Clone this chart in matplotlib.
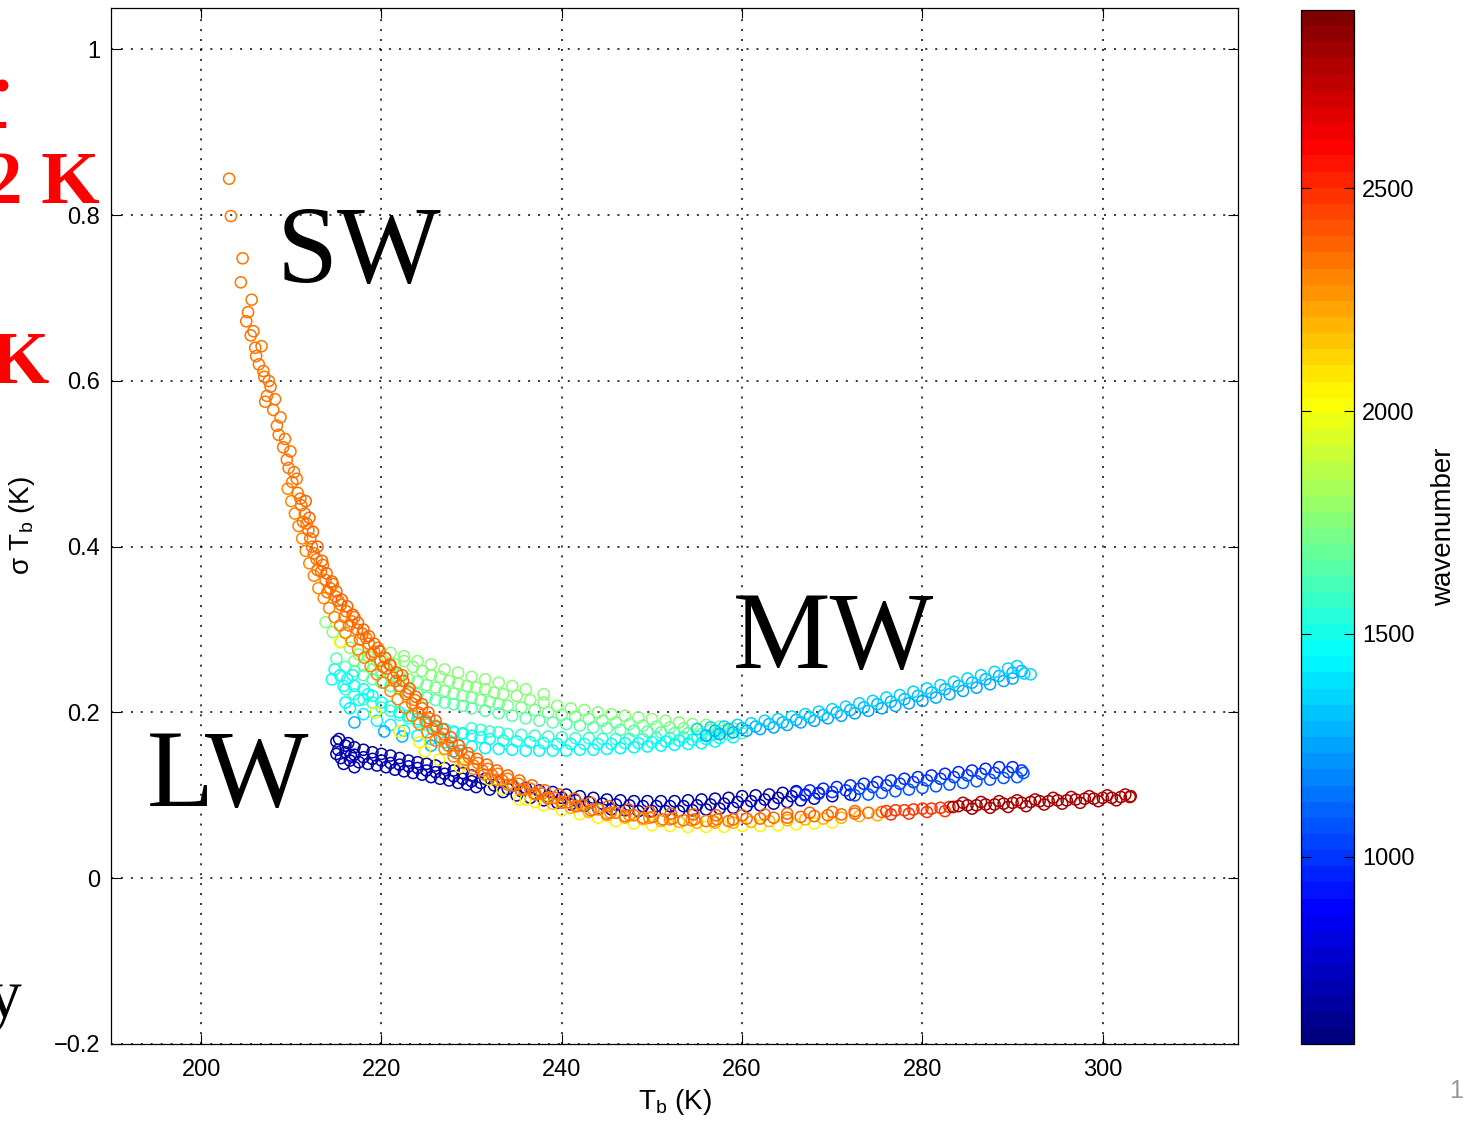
import numpy as np
import matplotlib.pyplot as plt
from matplotlib.colors import Normalize, ListedColormap
from matplotlib.cm import ScalarMappable

plt.rcParams['font.family'] = ['Liberation Sans', 'DejaVu Sans']
plt.rcParams['mathtext.default'] = 'regular'

# points, (Tb [K], sigma Tb [K]), grouped by channel colour
# SW band
sw_core = [(203.1, .844), (203.3, .799), (204.4, .719), (204.6, .748), (205.2, .683), (205.6, .698),
           (205.8, .660), (206.0, .640), (206.4, .620), (206.7, .642), (207.0, .605), (207.3, .582),
           (207.7, .593), (208.0, .565), (208.4, .546), (208.8, .556), (209.1, .520), (209.5, .505),
           (209.9, .515), (210.3, .490), (210.7, .465), (211.1, .450), (211.5, .440), (211.9, .420),
           (212.3, .400), (212.8, .385), (213.3, .370), (213.8, .360), (214.3, .350), (214.9, .340),
           (215.5, .330), (216.1, .322), (216.7, .310), (217.3, .300), (217.9, .295), (218.6, .283),
           (219.2, .273), (219.9, .262), (220.6, .253), (221.3, .242), (222.0, .232), (222.7, .222),
           (223.4, .211), (224.1, .200), (224.9, .190), (225.7, .180), (226.5, .170), (227.4, .160),
           (228.3, .151), (229.2, .143), (230.2, .136), (231.2, .130), (232.3, .124), (233.4, .118),
           (234.6, .112), (235.8, .107), (237.1, .101), (238.5, .096), (240.0, .091), (241.5, .087),
           (243.2, .082), (245.0, .078), (247.0, .075), (249.0, .073), (251.2, .071), (253.5, .070),
           (256.0, .069), (258.5, .069)]
sw_steep = [(205.0, .672), (205.5, .655), (206.1, .630), (206.9, .612), (207.5, .600), (207.1, .575),
            (208.2, .578), (208.6, .535), (209.3, .530), (209.7, .495), (210.1, .478), (210.6, .482),
            (211.0, .458), (211.3, .430), (211.7, .428), (212.1, .410), (212.5, .392), (212.9, .372),
            (213.5, .378), (214.0, .345), (214.6, .355), (215.2, .335), (215.9, .315), (216.4, .305),
            (217.0, .315), (217.6, .288), (218.3, .290), (218.9, .270), (219.6, .278), (220.2, .255),
            (220.9, .258), (221.6, .238), (222.3, .245), (223.0, .225), (223.7, .215), (224.5, .205),
            (225.3, .193), (226.1, .183), (226.9, .174), (227.8, .163), (228.8, .154), (229.7, .146),
            (230.7, .139), (231.8, .132), (232.9, .126), (234.0, .120), (235.2, .114), (236.5, .108),
            (237.8, .102), (239.2, .097), (240.7, .092), (242.3, .088), (244.1, .083), (246.0, .079),
            (248.0, .076), (250.1, .074), (252.3, .072), (254.7, .071), (257.2, .071)]
sw_right = [(211.6, .455), (212.0, .435), (212.4, .418), (212.9, .400), (213.4, .383), (213.9, .368),
            (214.5, .358), (215.0, .346), (215.6, .336), (216.2, .328), (216.8, .318), (217.4, .308),
            (218.0, .300), (218.6, .292), (219.2, .283), (219.8, .274), (220.4, .266), (221.0, .257),
            (221.7, .248), (222.4, .238), (223.1, .229), (223.8, .219), (224.5, .210), (225.2, .200),
            (226.0, .190), (226.8, .180), (227.7, .170), (228.6, .160), (229.6, .151), (230.6, .144),
            (231.7, .137), (232.8, .130), (234.0, .124), (235.3, .118), (236.7, .112), (238.1, .106),
            (239.7, .101), (241.4, .096), (243.2, .091), (245.2, .087), (247.4, .083), (249.7, .080),
            (252.1, .078), (254.6, .077), (257.1, .076)]
sw_left = [(209.6, .470), (210.0, .455), (210.4, .440), (210.8, .425), (211.2, .410), (211.6, .395),
           (212.0, .380), (212.5, .365), (213.0, .350), (213.6, .338), (214.2, .326), (214.8, .315),
           (215.4, .305), (216.0, .296), (216.7, .286), (217.4, .276), (218.1, .266), (218.8, .256),
           (219.5, .246), (220.2, .236), (221.0, .226), (221.8, .216), (222.6, .206), (223.4, .196),
           (224.2, .186), (225.1, .176), (226.0, .166), (227.0, .156), (228.0, .147), (229.1, .139),
           (230.2, .132), (231.4, .125), (232.7, .119), (234.0, .113), (235.4, .107), (236.9, .102),
           (238.4, .097), (240.0, .092), (241.7, .087), (243.5, .083), (245.4, .079), (247.5, .076),
           (249.7, .073), (252.0, .071), (254.4, .070), (256.8, .069)]
sw_yellow = [(236.0, .095), (238.0, .088), (240.0, .082), (242.0, .077), (244.0, .073), (246.0, .069),
             (248.0, .066), (250.0, .064), (252.0, .063), (254.0, .062), (256.0, .062), (258.0, .062),
             (260.0, .063), (262.0, .063), (264.0, .064), (266.0, .065), (268.0, .066), (270.0, .067)]
sw_gold = [(239.0, .090), (241.0, .085), (243.0, .080), (245.0, .076), (247.0, .073), (249.0, .071),
           (251.0, .069), (253.0, .068), (255.0, .067), (257.0, .067), (259.0, .067), (261.0, .068),
           (263.0, .069), (265.0, .070), (267.0, .071), (269.0, .072), (271.0, .073), (273.0, .075),
           (275.0, .076)]
sw_orange = [(259.0, .071), (260.5, .072), (262.0, .072), (263.5, .073), (265.0, .073), (266.5, .074),
             (268.0, .075), (269.5, .076), (271.0, .077), (272.5, .078), (274.0, .079), (275.5, .080),
             (260.0, .076), (262.5, .077), (265.0, .078), (267.5, .079), (270.0, .080), (272.5, .081)]
sw_warm = [(276.0, .081), (277.0, .082), (278.0, .082), (279.0, .083), (280.0, .084), (281.0, .084),
           (282.0, .085), (283.0, .086), (276.5, .077), (278.5, .078), (280.5, .080), (282.5, .081)]
sw_hot = [(284.0, .087), (285.0, .088), (286.0, .088), (287.0, .089), (288.0, .089), (289.0, .090),
          (290.0, .091), (291.0, .091), (292.0, .092), (293.0, .093), (294.0, .093), (295.0, .094),
          (296.0, .094), (297.0, .095), (298.0, .096), (299.0, .096), (300.0, .097), (301.0, .097),
          (302.0, .098), (303.0, .098), (283.4, .086), (285.5, .084), (287.5, .085), (289.5, .086),
          (291.5, .087), (293.5, .089), (295.5, .090), (297.5, .091), (299.5, .093), (301.5, .094)]
sw_hot2 = [(284.5, .091), (286.5, .092), (288.5, .093), (290.5, .094), (292.5, .095), (294.5, .097),
           (296.5, .098), (298.5, .099), (300.5, .100), (302.5, .101), (303.1, .099)]

# MW band
mw_top = [(221.0, .272), (222.5, .268), (224.0, .262), (225.5, .258), (227.0, .252), (228.5, .248),
          (230.0, .243), (231.5, .240), (233.0, .236), (234.5, .232), (236.0, .228), (238.0, .222)]
mw_green = [(213.8, .309), (214.6, .297), (215.5, .285), (216.5, .278), (217.5, .270), (218.5, .268),
            (219.5, .262), (220.5, .265), (221.5, .258), (222.5, .262), (223.5, .255), (224.5, .250),
            (225.5, .245), (226.5, .243), (227.5, .238), (228.5, .235), (229.5, .232), (230.5, .230),
            (231.5, .228), (232.5, .224), (233.5, .222), (235.0, .220), (236.5, .215), (238.0, .212),
            (239.5, .208), (241.0, .205), (242.5, .203), (244.0, .200), (245.5, .198), (247.0, .196),
            (248.5, .194), (250.0, .192), (251.5, .190), (253.0, .188), (254.5, .186), (256.0, .185),
            (257.5, .183), (259.0, .181)]
mw_green2 = [(217.0, .262), (218.0, .256), (219.0, .252), (220.0, .250), (221.0, .246), (222.0, .244),
             (223.0, .240), (224.0, .237), (225.0, .233), (226.0, .230), (227.0, .226), (228.0, .223),
             (229.0, .220), (230.0, .218), (231.0, .215), (232.0, .213), (233.0, .210), (234.0, .208),
             (235.5, .206), (237.0, .203), (238.5, .200), (240.0, .197), (241.5, .195), (243.0, .192),
             (244.5, .190), (246.0, .188), (247.5, .186), (249.0, .184), (250.5, .183), (252.0, .182),
             (253.5, .181), (255.0, .180), (256.5, .179), (258.0, .178)]
mw_lgreen = [(215.0, .265), (216.0, .255), (217.0, .250), (218.0, .245), (219.0, .240), (220.0, .236),
             (221.0, .232), (222.0, .228), (223.0, .224), (224.0, .222), (225.0, .218), (226.0, .215),
             (227.0, .212), (228.0, .210), (229.0, .208), (230.0, .205), (231.5, .202), (233.0, .199),
             (234.5, .196), (236.0, .193), (237.5, .190), (239.0, .188), (240.5, .186), (242.0, .184),
             (243.5, .182), (245.0, .181), (246.5, .179), (248.0, .178), (249.5, .177), (251.0, .176),
             (252.5, .175), (254.0, .175), (255.5, .174), (257.0, .174), (258.5, .174), (260.0, .175)]
mw_aqua = [(216.0, .228), (217.0, .222), (218.0, .216), (219.0, .212), (220.0, .206), (221.0, .202),
           (222.0, .197), (223.0, .193), (224.0, .189), (225.0, .185), (226.0, .182), (227.0, .179),
           (228.0, .176), (229.0, .174), (230.0, .181), (231.0, .179), (232.0, .177), (233.0, .176),
           (234.0, .174), (235.5, .173), (237.0, .172), (238.5, .171), (240.0, .170), (241.5, .169),
           (243.0, .169), (244.5, .168), (246.0, .168), (247.5, .168), (249.0, .168), (250.5, .169),
           (252.0, .169), (253.5, .170), (255.0, .171), (256.5, .172)]
mw_cyan = [(214.8, .252), (215.4, .245), (216.2, .240), (217.0, .232), (218.0, .228), (219.0, .220),
           (220.0, .212), (221.0, .207), (222.0, .200), (223.0, .196), (224.0, .192), (225.0, .188),
           (226.0, .184), (227.0, .180), (228.0, .177), (229.0, .175), (230.0, .172), (231.0, .170),
           (232.0, .168), (233.5, .166), (235.0, .165), (236.5, .164), (238.0, .163), (239.5, .162),
           (241.0, .162), (242.5, .162), (244.0, .162), (245.5, .162), (247.0, .163), (248.5, .163),
           (250.0, .164), (251.5, .165), (253.0, .166), (254.5, .167), (256.0, .168), (257.5, .169),
           (259.0, .170), (214.5, .240), (215.8, .232), (216.8, .245), (217.5, .215), (218.5, .222),
           (216.0, .212)]
mw_cyan2 = [(216.5, .205), (218.0, .198), (219.5, .190), (221.0, .185), (222.5, .178), (224.0, .172),
            (225.5, .168), (227.0, .164), (228.5, .161), (230.0, .159), (231.5, .157), (233.0, .156),
            (234.5, .155), (236.0, .154), (237.5, .154), (239.0, .154), (240.5, .154), (242.0, .155),
            (243.5, .155), (245.0, .156), (246.5, .157), (248.0, .158), (249.5, .159), (251.0, .160),
            (252.5, .161), (254.0, .162), (255.5, .163), (257.0, .165)]
mw_warm_lo = [(256.0, .172), (257.5, .174), (259.0, .176), (260.5, .178), (262.0, .180), (263.5, .182),
              (265.0, .185), (266.5, .188), (268.0, .190), (269.5, .193), (271.0, .196), (272.5, .199),
              (274.0, .202), (275.5, .205), (277.0, .208), (278.5, .211), (280.0, .214), (281.5, .218),
              (283.0, .222), (284.5, .226), (286.0, .230), (287.5, .234), (289.0, .238), (290.0, .241)]
mw_warm_mid = [(257.0, .178), (258.5, .180), (260.0, .181), (261.5, .183), (263.0, .186), (264.5, .188),
               (266.0, .191), (267.5, .194), (269.0, .197), (270.5, .200), (272.0, .203), (273.5, .206),
               (275.0, .210), (276.5, .213), (278.0, .216), (279.5, .220), (281.0, .224), (282.5, .228),
               (284.0, .232), (285.5, .236), (287.0, .240), (288.5, .244), (290.0, .248), (291.0, .250)]
mw_warm_hi = [(255.0, .180), (256.5, .182), (258.0, .183), (259.5, .185), (261.0, .187), (262.5, .190),
              (264.0, .192), (265.5, .195), (267.0, .198), (268.5, .201), (270.0, .204), (271.5, .207),
              (273.0, .211), (274.5, .214), (276.0, .218), (277.5, .221), (279.0, .225), (280.5, .229),
              (282.0, .233), (283.5, .237), (285.0, .241), (286.5, .245), (288.0, .249), (289.5, .253),
              (290.5, .256), (291.3, .247), (292.0, .246)]

# LW band
lw_upper = [(215.0, .165), (216.0, .160), (217.0, .158), (218.0, .155), (219.0, .152), (220.0, .150),
            (221.0, .148), (222.0, .145), (223.0, .142), (224.0, .140), (225.0, .138), (226.0, .136),
            (227.0, .133), (228.0, .130), (229.0, .127), (230.0, .124), (231.5, .120), (233.0, .116),
            (234.5, .112), (236.0, .109), (237.5, .106), (239.0, .104), (240.5, .101), (242.0, .099),
            (243.5, .097), (245.0, .095), (246.5, .094), (248.0, .093), (249.5, .093), (251.0, .093),
            (252.5, .093), (254.0, .094), (255.5, .095), (257.0, .096), (258.5, .097), (260.0, .099),
            (261.5, .100), (263.0, .101), (264.5, .103), (266.0, .105), (215.3, .168), (216.3, .163)]
lw_mid = [(215.0, .150), (216.0, .152), (217.0, .149), (218.0, .146), (219.0, .144), (220.0, .142),
          (221.0, .139), (222.0, .137), (223.0, .135), (224.0, .133), (225.0, .130), (226.0, .128),
          (227.0, .126), (228.0, .123), (229.0, .120), (230.0, .117), (231.0, .115), (232.5, .112),
          (234.0, .108), (235.5, .105), (237.0, .102), (238.5, .099), (240.0, .097), (241.5, .094),
          (243.0, .092), (244.5, .090), (246.0, .089), (247.5, .088), (249.0, .087), (250.5, .087),
          (252.0, .087), (253.5, .087), (255.0, .088), (256.5, .089), (258.0, .090), (259.5, .092),
          (261.0, .093), (262.5, .095), (264.0, .097), (265.5, .099), (267.0, .101), (268.5, .103)]
lw_lower = [(215.2, .155), (215.8, .138), (216.6, .148), (217.0, .134), (215.5, .145), (216.5, .142),
            (217.5, .140), (218.5, .138), (219.5, .136), (220.5, .134), (221.5, .131), (222.5, .129),
            (223.5, .127), (224.5, .125), (225.5, .122), (226.5, .120), (227.5, .118), (228.5, .115),
            (229.5, .113), (230.5, .110), (232.0, .107), (233.5, .104), (235.0, .100), (236.5, .097),
            (238.0, .094), (239.5, .091), (241.0, .089), (242.5, .087), (244.0, .085), (245.5, .083),
            (247.0, .082), (248.5, .081), (250.0, .081), (251.5, .081), (253.0, .081), (254.5, .082),
            (256.0, .083), (257.5, .084), (259.0, .085), (260.5, .087), (262.0, .088), (263.5, .090),
            (265.0, .092), (266.5, .094), (268.0, .096), (270.0, .099), (272.0, .101)]
lw_blue = [(266.0, .104), (267.5, .106), (269.0, .108), (270.5, .110), (272.0, .112), (273.5, .114),
           (275.0, .116), (276.5, .118), (278.0, .120), (279.5, .122), (281.0, .124), (282.5, .126),
           (284.0, .128), (285.5, .130), (287.0, .132), (288.5, .134), (290.0, .134)]
lw_blue_mid = [(267.0, .100), (268.5, .102), (270.0, .104), (271.5, .106), (273.0, .108), (274.5, .110),
               (276.0, .112), (277.5, .114), (279.0, .116), (280.5, .118), (282.0, .120), (283.5, .122),
               (285.0, .124), (286.5, .126), (288.0, .127), (289.5, .128), (291.0, .130)]
lw_blue2 = [(272.5, .100), (274.0, .101), (275.5, .103), (277.0, .105), (278.5, .107), (280.0, .109),
            (281.5, .111), (283.0, .113), (284.5, .115), (286.0, .117), (287.5, .119), (289.0, .121),
            (290.5, .122), (291.2, .127)]

# odd points in the crossing region
stray_yellow = [(215.4, .285), (219.3, .200), (222.0, .177), (224.2, .164), (224.8, .153), (226.4, .143),
                (228.7, .134), (232.0, .119), (233.4, .107), (235.3, .095), (237.1, .092)]
stray_blue = [(217.0, .188), (220.3, .177), (222.3, .171), (225.5, .160), (228.0, .153)]

# draw order and wavenumber of each group
groups = [mw_top, mw_green, mw_green2, mw_lgreen, mw_aqua, mw_cyan, mw_cyan2,
          mw_warm_lo, mw_warm_mid, mw_warm_hi, stray_blue,
          lw_upper, lw_mid, lw_lower, lw_blue, lw_blue_mid, lw_blue2, stray_yellow,
          sw_yellow, sw_gold, sw_left, sw_steep, sw_core, sw_right, sw_orange, sw_warm, sw_hot, sw_hot2]
wavenumbers = [1740, 1760, 1710, 1660, 1560, 1480, 1420,
               1250, 1300, 1370, 1300,
               660, 690, 720, 950, 1000, 1060, 2030,
               2060, 2200, 2300, 2320, 2340, 2360, 2360, 2480, 2800, 2770]


def matlab_jet(n=64):
    x = np.linspace(0, 1, n)
    r = np.clip(np.minimum(4 * x - 1.5, -4 * x + 4.5), 0, 1)
    g = np.clip(np.minimum(4 * x - 0.5, -4 * x + 3.5), 0, 1)
    b = np.clip(np.minimum(4 * x + 0.5, -4 * x + 2.5), 0, 1)
    return ListedColormap(np.column_stack([r, g, b]))


W, H = 1464, 1126
fig = plt.figure(figsize=(W / 100, H / 100), dpi=100)
ax = fig.add_axes([111 / W, 1 - 1044 / H, (1238 - 111) / W, (1044 - 8) / H])

cmap = matlab_jet(64)
norm = Normalize(580, 2900)

for pts, wn in zip(groups, wavenumbers):
    pts = np.array(pts)
    ax.scatter(pts[:, 0], pts[:, 1], s=64, facecolors='none',
               edgecolors=[cmap(norm(wn))], linewidths=1.1, zorder=3)

ax.set_xlim(190, 315)
ax.set_ylim(-0.2, 1.05)
ax.set_xticks([200, 220, 240, 260, 280, 300])
ax.set_yticks([-0.2, 0, 0.2, 0.4, 0.6, 0.8, 1])
ax.set_yticklabels(['\u22120.2', '0', '0.2', '0.4', '0.6', '0.8', '1'])
ax.grid(True, color='black', linestyle=(0, (1.3, 5.2)), linewidth=1.1)
ax.tick_params(direction='in', top=True, right=True, length=7, width=0.8, labelsize=17)
ax.tick_params(axis='x', pad=11)
ax.tick_params(axis='y', pad=8)
for sp in ax.spines.values():
    sp.set_linewidth(0.9)
ax.set_xlabel('T$_b$ (K)', fontsize=20, labelpad=4)
ax.set_ylabel('$\\sigma$ T$_b$ (K)', fontsize=20, labelpad=12)

# colorbar
cax = fig.add_axes([1301 / W, 1 - 1044 / H, 53 / W, (1044 - 10) / H])
cb = fig.colorbar(ScalarMappable(norm=norm, cmap=cmap), cax=cax)
cb.set_ticks([1000, 1500, 2000, 2500])
cax.tick_params(direction='in', left=True, right=True, length=7, width=0.8, labelsize=17, pad=6)
cb.outline.set_linewidth(0.9)
cb.set_label('wavenumber', fontsize=20, labelpad=12)


def fx(px):
    return px / W


def fy(py):
    return 1 - py / H


# band names
serif = 'Liberation Serif'
fig.text(fx(277), fy(282), 'SW', fontsize=79, family=serif, va='baseline')
fig.text(fx(733), fy(668), 'MW', fontsize=79, family=serif, va='baseline')
fig.text(fx(147), fy(806), 'LW', fontsize=79, family=serif, va='baseline')

# slide text cut off at the left edge
fig.text(fx(100), fy(203), '2 K', fontsize=54, family=serif, weight='bold', color='red',
         ha='right', va='baseline')
fig.text(fx(49), fy(383), 'K', fontsize=54, family=serif, weight='bold', color='red',
         ha='right', va='baseline')
fig.text(fx(2), fy(92), '.', fontsize=54, family=serif, weight='bold', color='red',
         ha='center', va='baseline')
fig.text(fx(8), fy(142), '-', fontsize=54, family=serif, weight='bold', color='red',
         ha='right', va='baseline')
fig.text(fx(21), fy(1017), 'y', fontsize=50, family=serif, ha='right', va='baseline')
fig.text(fx(1449), fy(1098), '1', fontsize=18, color='0.6', va='baseline')

fig.savefig('out.png', dpi=100)
